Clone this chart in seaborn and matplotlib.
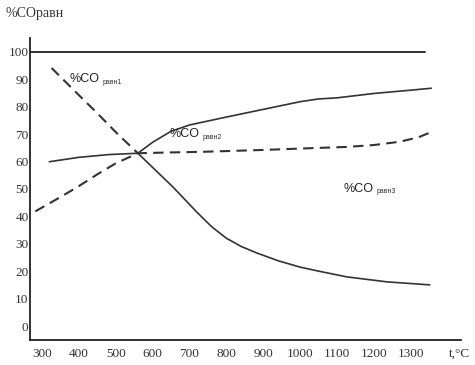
import matplotlib
matplotlib.use('Agg')
import matplotlib.pyplot as plt
import matplotlib.transforms as mtransforms
import seaborn as sns

# кривые равновесного %CO
t_up = [320, 400, 480, 560, 600, 650, 700, 800, 900, 1000, 1050, 1100, 1200, 1300, 1355]
co_up = [59.9, 61.5, 62.5, 63.0, 67.0, 71.0, 73.3, 76.2, 79.0, 81.8, 82.8, 83.2, 84.8, 86.0, 86.7]

t_flat = [282, 350, 400, 450, 500, 560, 650, 730, 900, 1000, 1126, 1200, 1270, 1320, 1351]
co_flat = [41.8, 47.0, 51.0, 55.3, 59.3, 63.0, 63.3, 63.5, 64.2, 64.7, 65.3, 66.0, 67.2, 68.8, 70.5]

t_down_dash = [326, 400, 450, 500, 560]
co_down_dash = [94.1, 84.2, 77.6, 70.7, 63.0]

t_down = [560, 655, 720, 760, 800, 840, 883, 940, 999, 1050, 1127, 1235, 1351]
co_down = [63.0, 50.7, 41.5, 36.2, 32.0, 29.0, 26.6, 23.8, 21.5, 20.0, 17.9, 16.1, 15.0]

x_ticks = [300, 400, 500, 600, 700, 800, 900, 1000, 1100, 1200, 1300]
y_ticks = [0, 10, 20, 30, 40, 50, 60, 70, 80, 90, 100]

labels = [
    # (t, %CO, индекс)
    (376, 90.0, 'равн1'),
    (647, 70.0, 'равн2'),
    (1116, 50.0, 'равн3'),
]

sns.set_style('white')
plt.rcParams['font.family'] = ['Liberation Serif', 'DejaVu Serif']

fig = plt.figure(figsize=(4.75, 3.65), dpi=100)
ax = fig.add_axes([0.063, 0.0685, 0.907, 0.828])

line_col = '#333333'
sns.lineplot(x=t_up, y=co_up, ax=ax, color=line_col, linewidth=1.2, sort=False)
sns.lineplot(x=t_down, y=co_down, ax=ax, color=line_col, linewidth=1.2, sort=False)
sns.lineplot(x=t_flat, y=co_flat, ax=ax, color=line_col, linewidth=1.5,
             linestyle=(0, (5, 3)), sort=False)
sns.lineplot(x=t_down_dash, y=co_down_dash, ax=ax, color=line_col, linewidth=1.5,
             linestyle=(0, (5, 3)), sort=False)

# линия 100 %
ax.plot([267.5, 1338], [100, 100], color='#222222', linewidth=1.3)

ax.set_xlim(267.5, 1435)
ax.set_ylim(-5.1, 105.1)
ax.set_xticks(x_ticks)
ax.set_yticks(y_ticks)
ax.tick_params(length=0, labelsize=9.5, labelcolor='#333333', pad=6)
ax.tick_params(axis='y', pad=1)

for side in ['top', 'right']:
    ax.spines[side].set_visible(False)
for side in ['left', 'bottom']:
    ax.spines[side].set_color('#222222')
    ax.spines[side].set_linewidth(1.3)

# подписи кривых
for t, v, sub in labels:
    ax.text(t, v, '%CO', family=['Liberation Sans', 'DejaVu Sans'], fontsize=9,
            color='#222222', ha='left', va='center')
    off = mtransforms.offset_copy(ax.transData, fig=fig, x=33, y=-3, units='dots')
    ax.text(t, v, sub, transform=off, family=['Liberation Sans', 'DejaVu Sans'],
            fontsize=5, color='#333333', ha='left', va='center')

fig.text(5 / 475, 1 - 13 / 365, '%COравн', fontsize=10, color='#333333',
         ha='left', va='center')
fig.text(449 / 475, 1 - 354 / 365, 't,°C', fontsize=9.5, color='#333333',
         ha='left', va='center')

fig.savefig('out.png', dpi=100)
